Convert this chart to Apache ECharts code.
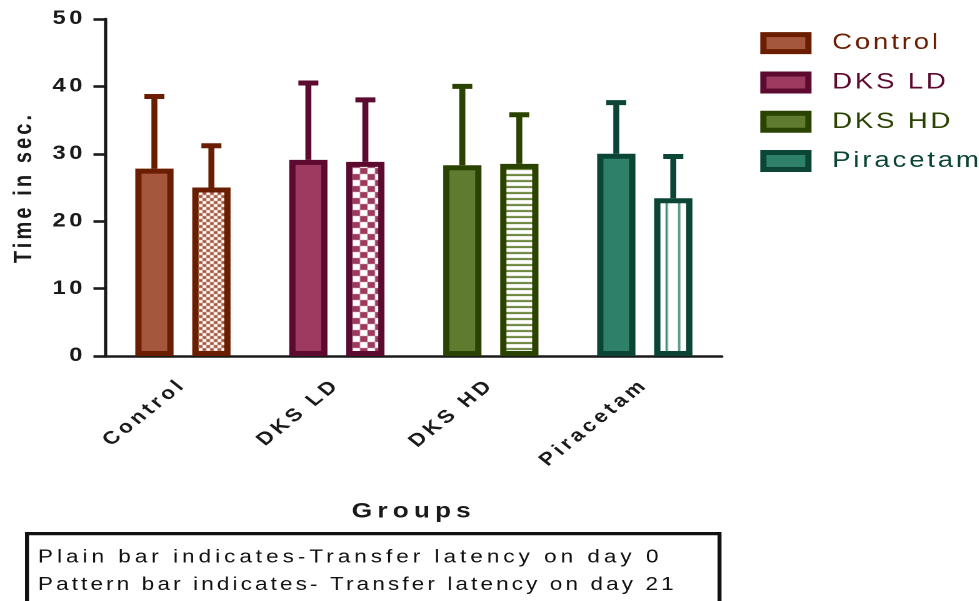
<!DOCTYPE html>
<html>
<head>
<meta charset="utf-8">
<script src="https://cdn.jsdelivr.net/npm/echarts@6/dist/echarts.min.js"></script>
<style>
  html, body { margin: 0; background: #fff; overflow: hidden; }
  /* the source figure is stretched sideways, so draw narrow and widen it */
  #chart { width: 783.2px; height: 601px; transform: scaleX(1.25); transform-origin: 0 0; }
</style>
</head>
<body>
<div id="chart"></div>
<script>
// data
const categories = ['Control', 'DKS LD', 'DKS HD', 'Piracetam'];
const day0Mean = [27.8, 29.1, 28.3, 30.0];
const day0SD = [10.7, 11.4, 11.7, 7.6];
const day21Mean = [25.0, 28.8, 28.5, 23.4];
const day21SD = [6.2, 9.2, 7.3, 6.2];
const yTicks = [0, 10, 20, 30, 40, 50];
const noteLines = [
  'Plain bar indicates-Transfer latency on day 0',
  'Pattern bar indicates- Transfer latency on day 21'
];

const fills = ['#A5573D', '#9E3A5F', '#5F7B2F', '#2F8068'];
const borders = ['#6B1D00', '#5C0A2F', '#2B4300', '#0B4536'];

// letter spacing: zrender has no option for it, so a dummy family "lsNN"
// (NN = tenths of a px) is read when the canvas font is set
const fontDesc = Object.getOwnPropertyDescriptor(CanvasRenderingContext2D.prototype, 'font');
Object.defineProperty(CanvasRenderingContext2D.prototype, 'font', {
  configurable: true,
  get() { return fontDesc.get.call(this); },
  set(v) {
    fontDesc.set.call(this, v);
    const m = /\bls(\d+)\b/.exec(v);
    if ('letterSpacing' in this) this.letterSpacing = m ? (m[1] / 10) + 'px' : '0px';
  }
});
const ff = ls => 'ls' + ls + ', "Liberation Sans", Arial, sans-serif';

// pattern tiles for the day 21 bars
function tile(w, h, draw, extra) {
  const c = document.createElement('canvas');
  c.width = w; c.height = h;
  const ctx = c.getContext('2d');
  ctx.fillStyle = '#fff';
  ctx.fillRect(0, 0, w, h);
  draw(ctx);
  return Object.assign({ image: c, repeat: 'repeat' }, extra);
}
const checker = (s, col) => tile(s * 2, s * 2, ctx => {
  ctx.fillStyle = col;
  ctx.fillRect(0, 0, s, s);
  ctx.fillRect(s, s, s, s);
});
const hLines = (p, t, col) => tile(8, p, ctx => { ctx.fillStyle = col; ctx.fillRect(0, 0, 8, t); });
const vLines = (p, t, col) => tile(p, 8, ctx => { ctx.fillStyle = col; ctx.fillRect(0, 0, t, 8); }, { x: 2.5 });

const patterns = [
  checker(3, fills[0]),
  checker(6, fills[1]),
  hLines(6, 2, fills[2]),
  vLines(10, 1.6, fills[3])
];

const BAR_W = 30.6;
const BAR_OFFSET = 22.8; // centre of each bar from the category centre
const BORDER_W = 5;
const AXIS_COL = '#1a1a1a';
const NOTE_SPACING = [32, 25]; // the two note lines are spaced a bit differently

const chart = echarts.init(document.getElementById('chart'), null, { devicePixelRatio: 2 });

const errData = [];
categories.forEach((c, i) => {
  errData.push([i, day0Mean[i], day0SD[i], 0]);
  errData.push([i, day21Mean[i], day21SD[i], 1]);
});

const option = {
  animation: false,
  grid: { left: 80, right: 205.6, top: 19, bottom: 245 },
  legend: {
    orient: 'vertical',
    left: 608.2,
    top: 31,
    padding: 0,
    itemWidth: 36,
    itemHeight: 17,
    itemGap: 15,
    icon: 'rect',
    textStyle: { fontSize: 22, fontFamily: ff(23), padding: [0, 0, 0, 14] },
    data: categories.map((c, i) => ({
      name: c,
      itemStyle: { color: fills[i], borderColor: borders[i], borderWidth: BORDER_W, opacity: 1 },
      textStyle: { color: borders[i] }
    }))
  },
  xAxis: {
    type: 'category',
    data: categories,
    name: 'Groups',
    nameLocation: 'middle',
    nameGap: 143,
    nameTextStyle: { fontSize: 21, fontWeight: 'bold', color: AXIS_COL, fontFamily: ff(41) },
    axisLine: { lineStyle: { color: AXIS_COL, width: 2.6 } },
    axisTick: { alignWithLabel: true, length: 9, lineStyle: { color: AXIS_COL, width: 2.6 } },
    axisLabel: { rotate: 45, margin: 26, fontSize: 18, fontWeight: 'bold', color: AXIS_COL, fontFamily: ff(32) }
  },
  yAxis: {
    type: 'value',
    min: yTicks[0],
    max: yTicks[yTicks.length - 1],
    interval: 10,
    name: 'Time in sec.',
    nameLocation: 'middle',
    nameGap: 50,
    nameTextStyle: { fontSize: 20, fontWeight: 'bold', color: AXIS_COL, fontFamily: ff(31) },
    splitLine: { show: false },
    axisLine: { show: true, lineStyle: { color: AXIS_COL, width: 2.6 } },
    axisTick: { show: true, length: 10, lineStyle: { color: AXIS_COL, width: 2.6 } },
    axisLabel: { margin: 16, fontSize: 19, fontWeight: 'bold', color: AXIS_COL, fontFamily: ff(28) }
  },
  series: [
    {
      name: 'Day 0',
      type: 'bar',
      barWidth: BAR_W,
      barGap: '49%',
      z: 3,
      data: day0Mean.map((v, i) => ({
        value: v,
        itemStyle: { color: fills[i], borderColor: borders[i], borderWidth: BORDER_W }
      }))
    },
    {
      name: 'Day 21',
      type: 'bar',
      barWidth: BAR_W,
      barGap: '49%',
      z: 3,
      data: day21Mean.map((v, i) => ({
        value: v,
        itemStyle: { color: patterns[i], borderColor: borders[i], borderWidth: BORDER_W }
      }))
    },
    {
      type: 'custom',
      z: 2,
      data: errData,
      renderItem(params, api) {
        const ci = api.value(0);
        const mean = api.value(1);
        const base = api.coord([ci, mean]);
        const tip = api.coord([ci, mean + api.value(2)]);
        const x = base[0] + (api.value(3) === 0 ? -BAR_OFFSET : BAR_OFFSET);
        const stroke = borders[ci];
        return {
          type: 'group',
          children: [
            { type: 'line', shape: { x1: x, y1: base[1], x2: x, y2: tip[1] }, style: { stroke, lineWidth: 4.8 } },
            { type: 'line', shape: { x1: x - 8, y1: tip[1], x2: x + 8, y2: tip[1] }, style: { stroke, lineWidth: 5 } }
          ]
        };
      }
    },
    // empty series, only there to feed the legend
    ...categories.map((c, i) => ({
      name: c,
      type: 'scatter',
      data: [],
      itemStyle: { color: fills[i], borderColor: borders[i], borderWidth: BORDER_W }
    }))
  ],
  graphic: [
    {
      type: 'rect',
      left: 20,
      top: 532,
      shape: { width: 554, height: 90 },
      style: { fill: '#fff', stroke: '#111', lineWidth: 3.2 }
    },
    ...noteLines.map((t, i) => ({
      type: 'text',
      left: 30.4,
      top: 547 + i * 28,
      style: { text: t, fill: '#111', font: '18px ' + ff(NOTE_SPACING[i]) }
    }))
  ]
};

chart.setOption(option);
</script>
</body>
</html>
